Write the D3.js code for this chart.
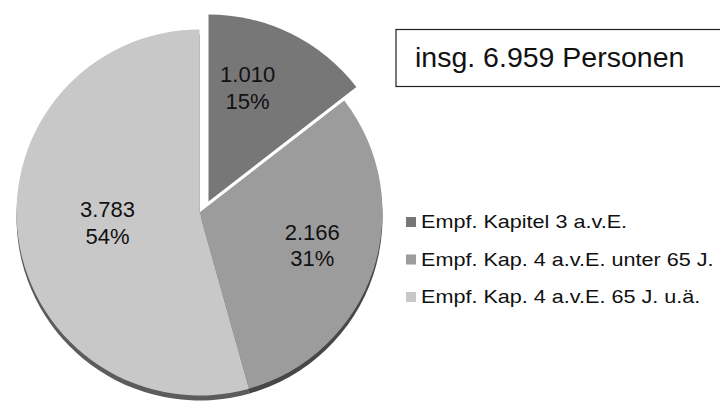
<!DOCTYPE html>
<html>
<head>
<meta charset="utf-8">
<script src="https://cdn.jsdelivr.net/npm/d3@7"></script>
<style>
  body { margin: 0; background: #fff; }
  svg { display: block; font-family: "Liberation Sans", Arial, sans-serif; }
</style>
</head>
<body>
<div class="chart-container"></div>
<script>
// Data
const categories = ["Empf. Kapitel 3 a.v.E.", "Empf. Kap. 4 a.v.E. unter 65 J.", "Empf. Kap. 4 a.v.E. 65 J. u.ä."];
const values = [1010, 2166, 3783];
const totalLabel = "insg. 6.959 Personen";

const colors = ["#777777", "#9c9c9c", "#c8c8c8"];
const rimColors = ["#4a4a4a", "#474747", "#5c5c5c"];

const width = 720, height = 403;
const svg = d3.select(".chart-container").append("svg")
  .attr("width", width).attr("height", height);

// Setup
const cx = 199.5, cy = 212.5, radius = 183;
const explode = [9, -11];          // offset of first slice
const labelR = 115;
const labelShift = [[-11.5, -11.2], [3.5, -3.8], [21.9, -5.8]];

// german number format (1.010)
const locale = d3.formatLocale({decimal: ",", thousands: ".", grouping: [3], currency: ["", "€"]});
const fmtDe = locale.format(",.0f");
const total = d3.sum(values);

const pie = d3.pie().sort(null).value(d => d)(values);

const g = svg.append("g").attr("transform", `translate(${cx},${cy})`);

// rim / depth under the disc
g.append("g").attr("transform", "translate(0,5)")
  .selectAll("path").data(pie.filter(d => d.index > 0))
  .enter().append("path")
  .attr("d", d => d3.arc().innerRadius(0).outerRadius(radius)(d))
  .attr("fill", d => rimColors[d.index]);

// slices
g.selectAll(".slice").data(pie)
  .enter().append("path")
  .attr("class", "slice")
  .attr("d", d => d3.arc().innerRadius(0).outerRadius(d.index === 0 ? radius + 4 : radius)(d))
  .attr("transform", d => d.index === 0 ? `translate(${explode[0]},${explode[1]})` : null)
  .attr("fill", d => colors[d.index]);

// labels
const lab = d3.arc().innerRadius(labelR).outerRadius(labelR);
const labels = g.selectAll(".lbl").data(pie)
  .enter().append("text")
  .attr("class", "lbl")
  .attr("text-anchor", "middle")
  .style("font-size", "22px")
  .attr("fill", "#111")
  .attr("transform", d => {
    const c = lab.centroid(d);
    const ex = d.index === 0 ? explode : [0, 0];
    return `translate(${c[0] + ex[0] + labelShift[d.index][0]},${c[1] + ex[1] + labelShift[d.index][1]})`;
  });
labels.append("tspan").attr("x", 0).attr("y", -5).text(d => fmtDe(d.value));
labels.append("tspan").attr("x", 0).attr("y", 21.5).text(d => Math.round(d.value / total * 100) + "%");

// total box
svg.append("rect")
  .attr("x", 396).attr("y", 29.5).attr("width", 340).attr("height", 57)
  .attr("fill", "#fff").attr("stroke", "#222").attr("stroke-width", 1.2);
svg.append("text")
  .attr("x", 415).attr("y", 67)
  .style("font-size", "28.5px").attr("fill", "#111")
  .text(totalLabel);

// legend
const legend = svg.append("g").selectAll("g").data(categories)
  .enter().append("g")
  .attr("transform", (d, i) => `translate(406,${228.3 + i * 37.5})`);
legend.append("rect")
  .attr("x", 0).attr("y", -11.3).attr("width", 10).attr("height", 10)
  .attr("fill", (d, i) => colors[i]);
legend.append("text")
  .attr("transform", "translate(15,0) scale(1.2,1)")
  .style("font-size", "18px").attr("fill", "#111")
  .text(d => d);
</script>
</body>
</html>
